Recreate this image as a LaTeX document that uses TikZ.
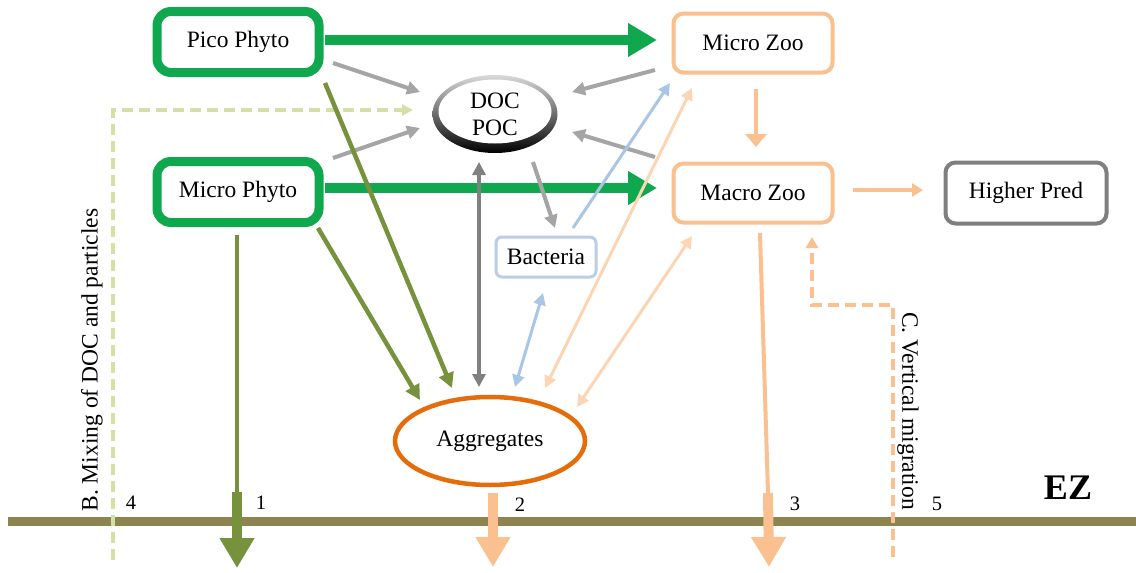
\documentclass[tikz,border=0pt]{standalone}
\usepackage{fontspec}
\setmainfont{Liberation Serif}
\usetikzlibrary{arrows.meta,calc,shapes.geometric}
\definecolor{phygreen}{RGB}{16,168,78}
\definecolor{olive}{RGB}{118,146,60}
\definecolor{grayarr}{RGB}{165,165,165}
\definecolor{darkgrayarr}{RGB}{128,128,128}
\definecolor{bluearr}{RGB}{170,198,230}
\definecolor{bactborder}{RGB}{185,205,229}
\definecolor{peach}{RGB}{250,192,143}
\definecolor{lightpeach}{RGB}{252,213,180}
\definecolor{aggorange}{RGB}{228,108,10}
\definecolor{ezline}{RGB}{141,132,80}
\definecolor{dashgreen}{RGB}{212,224,165}
\definecolor{predgray}{RGB}{127,127,127}
\tikzset{
  every node/.style={font=\fontsize{23.5}{27}\selectfont, inner sep=0pt},
  phybox/.style={draw=phygreen, line width=9pt, rounded corners=14pt, minimum width=162pt, minimum height=61pt, fill=white},
  zoobox/.style={draw=peach, line width=4pt, rounded corners=10pt, minimum width=159pt, minimum height=59pt, fill=white},
  predbox/.style={draw=predgray, line width=4pt, rounded corners=10pt, minimum width=161pt, minimum height=61pt, fill=white},
  bactbox/.style={draw=bactborder, line width=3pt, rounded corners=6pt, minimum width=100pt, minimum height=40pt, fill=white},
  aggshape/.style={ellipse, draw=aggorange, line width=4.5pt, minimum width=190pt, minimum height=88pt},
  numlabel/.style={font=\fontsize{20.5}{22}\selectfont},
  bigflow/.style={draw=phygreen, line width=10pt, -{Triangle[length=29pt,width=32pt]}},
  grayflow/.style={draw=grayarr, line width=4pt, -{Triangle[length=13pt,width=13pt]}},
  oliveflow/.style={draw=olive, line width=4.5pt, -{Triangle[length=15pt,width=15pt]}},
  blueflow/.style={draw=bluearr, line width=3pt, -{Triangle[length=12pt,width=12pt]}},
  peachflow/.style={draw=lightpeach, line width=3pt, {Triangle[length=12pt,width=12pt]}-{Triangle[length=12pt,width=12pt]}},
  sinkarrow/.style={line width=10pt, -{Triangle[length=30pt,width=33pt]}},
  dashedflow/.style={line width=4pt, dash pattern=on 11pt off 6pt},
}
\begin{document}
\begin{tikzpicture}[x=1pt,y=-1pt]
\useasboundingbox (0,0) rectangle (1136,573);
\fill[white] (0,0) rectangle (1136,573);

% euphotic zone line
\coordinate (lineL) at (8,521);
\coordinate (lineR) at (1136,521);
\draw[ezline, line width=9pt] (lineL) -- (lineR);

% nodes
\node[phybox] (pico) at (238,42) {Pico Phyto};
\node[phybox] (microphyto) at (238,192) {Micro Phyto};
\node[zoobox] (microzoo) at (753,43) {Micro Zoo};
\node[zoobox] (macrozoo) at (753,193) {Macro Zoo};
\node[predbox] (higher) at (1026,193) {Higher Pred};
\node[bactbox] (bact) at (546,257) {Bacteria};
\node[aggshape] (agg) at (490,441) {Aggregates};

% DOC / POC ellipse with shaded rim
\coordinate (docc) at (495,114);
\shade[top color=black!15, bottom color=black] (docc) ellipse [x radius=62.5pt, y radius=39pt];
\fill[white] ($(docc)+(0,-2.5)$) ellipse [x radius=56.5pt, y radius=32pt];
\node[ellipse, minimum width=125pt, minimum height=78pt, align=center] (doc) at (docc) {DOC\\POC};

% thick green grazing arrows
\draw[bigflow] ($(pico)+(87,-2)$) -- ($(microzoo)+(-96,-3)$);
\draw[bigflow] ($(microphyto)+(87,-4)$) -- ($(macrozoo)+(-96,-5)$);

% gray arrows to DOC
\draw[grayflow] ($(pico)+(95,21)$) -- ($(doc)+(-75,-22)$);
\draw[grayflow] ($(microphyto)+(95,-34)$) -- ($(doc)+(-75,14)$);
\draw[grayflow] ($(microzoo)+(-98,27)$) -- ($(doc)+(77,-22)$);
\draw[grayflow] ($(macrozoo)+(-98,-36)$) -- ($(doc)+(77,18)$);
\draw[grayflow] ($(doc)+(38,48)$) -- ($(bact)+(9,-29)$);
\draw[draw=darkgrayarr, line width=4pt, {Triangle[length=13pt,width=13pt]}-{Triangle[length=13pt,width=13pt]}] ($(doc)+(-16,48)$) -- ($(agg)+(-11,-54)$);

% B. mixing dashed path
\coordinate (mixstart) at (113,560);
\coordinate (mixcorner) at (113,110);
\draw[dashgreen, dashedflow, -{Triangle[length=11pt,width=11pt]}] (mixstart) -- (mixcorner) -- ($(doc)+(-82,-4)$);

% olive arrows
\draw[oliveflow] ($(pico)+(87,41)$) -- ($(agg)+(-38,-53)$);
\draw[oliveflow] ($(microphyto)+(80,36)$) -- ($(agg)+(-70,-41)$);
\coordinate (sink1a) at (237,492);
\coordinate (sink1b) at (237,568);
\draw[olive, line width=4.5pt] ($(microphyto)+(-1,43)$) -- (sink1a);
\draw[olive, sinkarrow] (sink1a) -- (sink1b);

% blue arrows
\draw[blueflow] ($(bact)+(27,-29)$) -- ($(microzoo)+(-83,40)$);
\draw[draw=bluearr, line width=3pt, {Triangle[length=12pt,width=12pt]}-{Triangle[length=12pt,width=12pt]}] ($(bact)+(-3,36)$) -- ($(agg)+(25,-54)$);

% light peach double arrows
\draw[peachflow] ($(agg)+(55,-53)$) -- ($(microzoo)+(-61,45)$);
\draw[peachflow] ($(agg)+(87,-34)$) -- ($(macrozoo)+(-61,43)$);

% zooplankton arrows
\draw[draw=peach, line width=4pt, -{Triangle[length=13pt,width=21pt]}] ($(microzoo)+(3,46)$) -- ($(macrozoo)+(3,-46)$);
\draw[draw=peach, line width=3.5pt, -{Triangle[length=11pt,width=13pt]}] ($(macrozoo)+(100,-3)$) -- ($(higher)+(-103,-3)$);

% sinking of macro zoo
\coordinate (sink3a) at (768,493);
\coordinate (sink3b) at (769,567);
\draw[peach, line width=4pt] ($(macrozoo)+(7,40)$) -- (sink3a);
\draw[peach, sinkarrow] (sink3a) -- (sink3b);

% sinking of aggregates
\coordinate (sink2b) at (493,567);
\draw[peach, sinkarrow] ($(agg)+(3,52)$) -- (sink2b);

% C. vertical migration dashed path
\coordinate (migstart) at (893,557);
\coordinate (migc1) at (893,305);
\coordinate (migc2) at (812,305);
\draw[peach, dashedflow, -{Triangle[length=11pt,width=12pt]}] (migstart) -- (migc1) -- (migc2) -- ($(macrozoo)+(59,44)$);

% labels
\node[rotate=90] (mixlabel) at (92,360) {B. Mixing of DOC and particles};
\node[rotate=-90] (miglabel) at (908,411) {C. Vertical migration};
\node[numlabel] (n4) at (131,503) {4};
\node[numlabel] (n1) at (261,503) {1};
\node[numlabel] (n2) at (520,505) {2};
\node[numlabel] (n3) at (795,504) {3};
\node[numlabel] (n5) at (937,504) {5};
\node[font=\fontsize{36}{40}\selectfont\bfseries] (ez) at (1068,488) {EZ};
\end{tikzpicture}
\end{document}
